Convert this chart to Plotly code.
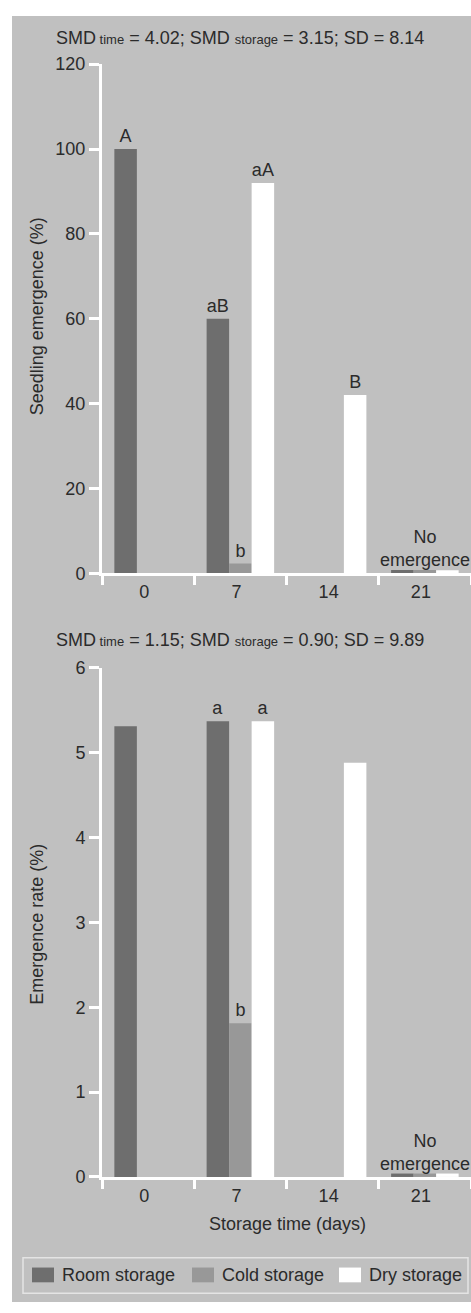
import plotly.graph_objects as go

W, H = 471, 1313
FONT = "Liberation Sans, Arial, sans-serif"
TXT = "#2b2b2b"

# ---------------- data ----------------
days = ["0", "7", "14", "21"]
series_names = ["Room storage", "Cold storage", "Dry storage"]
series_colors = ["#6e6e6e", "#989898", "#ffffff"]

emergence_room = [100, 60, 0, 0.8]
emergence_cold = [0, 2.3, 0, 0.8]
emergence_dry = [0, 92, 42, 0.7]
emergence_room_lbl = ["A", "aB", "", ""]
emergence_cold_lbl = ["", "b", "", ""]
emergence_dry_lbl = ["", "aA", "B", ""]

rate_room = [5.31, 5.37, 0, 0.04]
rate_cold = [0, 1.81, 0, 0.04]
rate_dry = [0, 5.37, 4.88, 0.04]
rate_room_lbl = ["", "a", "", ""]
rate_cold_lbl = ["", "b", "", ""]
rate_dry_lbl = ["", "a", "", ""]

top_title = ("SMD<span style='font-size:13px'> time</span> = 4.02; SMD "
             "<span style='font-size:13px'>storage</span> = 3.15; SD = 8.14")
bot_title = ("SMD<span style='font-size:13px'> time</span> = 1.15; SMD "
             "<span style='font-size:13px'>storage</span> = 0.90; SD = 9.89")
top_ylabel = "Seedling emergence (%)"
bot_ylabel = "Emergence rate (%)"
xlabel = "Storage time (days)"
no_emerg = "No<br>emergence"
no_emerg_day = "21"


def px(x):
    return x / W


def py(y):
    return 1 - y / H


fig = go.Figure()

top_vals = [emergence_room, emergence_cold, emergence_dry]
top_lbls = [emergence_room_lbl, emergence_cold_lbl, emergence_dry_lbl]
bot_vals = [rate_room, rate_cold, rate_dry]
bot_lbls = [rate_room_lbl, rate_cold_lbl, rate_dry_lbl]

for vals, lbls, xa, ya in [(top_vals, top_lbls, "x", "y"), (bot_vals, bot_lbls, "x2", "y2")]:
    for name, col, v, l in zip(series_names, series_colors, vals, lbls):
        fig.add_trace(go.Bar(
            x=days, y=v, name=name, xaxis=xa, yaxis=ya,
            marker=dict(color=col, line=dict(width=0)),
            text=l, textposition="outside", textangle=0, constraintext="none",
            textfont=dict(size=18, color=TXT, family=FONT),
            cliponaxis=False, showlegend=False, hoverinfo="skip",
        ))

xdom = [px(102), 1.0]
axis_common = dict(showline=True, linecolor="white", linewidth=3,
                   ticks="outside", tickcolor="white", tickwidth=3,
                   showgrid=False, zeroline=False,
                   tickfont=dict(size=18, color=TXT, family=FONT))

fig.update_layout(
    width=W, height=H,
    margin=dict(l=0, r=0, t=0, b=0),
    paper_bgcolor="white", plot_bgcolor="rgba(0,0,0,0)",
    barmode="group", bargap=0.268, bargroupgap=0,
    showlegend=False,
    font=dict(family=FONT, size=18, color=TXT),
    xaxis=dict(domain=xdom, anchor="y", type="category", range=[-0.5, 3.5],
               tickson="boundaries", ticklen=9, ticklabelshift=-4, **axis_common),
    yaxis=dict(domain=[py(572), py(55)], anchor="x", range=[0, 120], dtick=20,
               ticklen=10, **axis_common),
    xaxis2=dict(domain=xdom, anchor="y2", type="category", range=[-0.5, 3.5],
                tickson="boundaries", ticklen=9, ticklabelshift=-4, **axis_common),
    yaxis2=dict(domain=[py(1185), py(668)], anchor="x2", range=[0, 6], dtick=1,
                ticklen=10, **axis_common),
)

shapes = [
    dict(type="rect", xref="paper", yref="paper", x0=px(12), x1=1.0, y0=py(1312), y1=py(6),
         fillcolor="#c0c0c0", line=dict(width=0), layer="below"),
    dict(type="rect", xref="paper", yref="paper", x0=px(23), x1=px(468), y0=py(1303), y1=py(1267),
         fillcolor="rgba(0,0,0,0)", line=dict(color="#e4e4e4", width=1.5), layer="above"),
]
ne_idx = days.index(no_emerg_day)
annotations = [
    dict(text=top_title, xref="paper", yref="paper", x=px(54), y=py(28), xanchor="left",
         yanchor="middle", showarrow=False, font=dict(size=18, color=TXT)),
    dict(text=bot_title, xref="paper", yref="paper", x=px(54), y=py(640), xanchor="left",
         yanchor="middle", showarrow=False, font=dict(size=18, color=TXT)),
    dict(text=top_ylabel, xref="paper", yref="paper", x=px(37), y=py(311), textangle=-90,
         xanchor="center", yanchor="middle", showarrow=False, font=dict(size=18, color=TXT)),
    dict(text=bot_ylabel, xref="paper", yref="paper", x=px(37), y=py(929), textangle=-90,
         xanchor="center", yanchor="middle", showarrow=False, font=dict(size=18, color=TXT)),
    dict(text=xlabel, xref="paper", yref="paper", x=px(287), y=py(1233),
         xanchor="center", yanchor="middle", showarrow=False, font=dict(size=18, color=TXT)),
    dict(text=no_emerg, xref="x", yref="paper", x=ne_idx, y=py(547), xanchor="center",
         yanchor="middle", showarrow=False, font=dict(size=18, color=TXT)),
    dict(text=no_emerg, xref="x2", yref="paper", x=ne_idx, y=py(1160), xanchor="center",
         yanchor="middle", showarrow=False, font=dict(size=18, color=TXT)),
]

# legend drawn by hand so the swatches match the reference size
sw_x = [32, 192, 339]
for name, col, sx in zip(series_names, series_colors, sw_x):
    shapes.append(dict(type="rect", xref="paper", yref="paper", x0=px(sx), x1=px(sx + 22),
                       y0=py(1292), y1=py(1277), fillcolor=col, line=dict(width=0)))
    annotations.append(dict(text=name, xref="paper", yref="paper", x=px(sx + 28), y=py(1285),
                            xanchor="left", yanchor="middle", showarrow=False,
                            font=dict(size=18, color=TXT)))

fig.update_layout(shapes=shapes, annotations=annotations)

js = "document.body.style.margin='0';document.body.style.overflow='hidden';"
fig.write_html("out.html", post_script=js, config={"displayModeBar": False})
